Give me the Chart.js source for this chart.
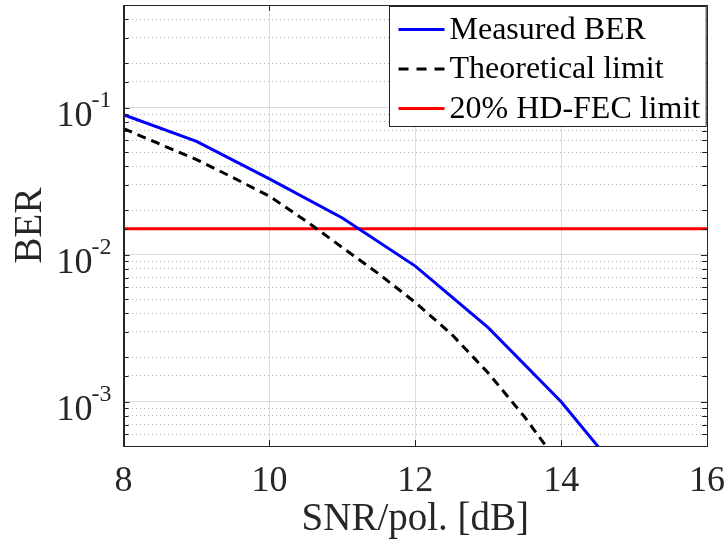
<!DOCTYPE html>
<html>
<head>
<meta charset="utf-8">
<script src="https://cdn.jsdelivr.net/npm/chart.js@4.4.1/dist/chart.umd.min.js"></script>
<style>
  html, body { margin: 0; padding: 0; background: #fff; }
</style>
</head>
<body>
<canvas id="c" width="726" height="546"></canvas>
<script>
// measured BER vs SNR per polarisation
const snrMeasured = [8, 9, 10, 11, 12, 13, 14, 15];
const berMeasured = [0.0896, 0.059, 0.0328, 0.0178, 0.00837, 0.00319, 0.0010, 0.00025];

// theoretical curve
const snrTheory = [8, 8.5, 9, 9.5, 10, 10.5, 11, 11.5, 12, 12.5, 13, 13.5, 14];
const berTheory = [0.072, 0.0565, 0.0444, 0.0335, 0.025, 0.017, 0.0112, 0.0074, 0.00474, 0.00287, 0.00157, 0.000787, 0.00036];

// 20% HD-FEC threshold
const fecSnr = [8, 16];
const fecBer = [0.015, 0.015];

const seriesLabels = ['Measured BER', 'Theoretical limit', '20% HD-FEC limit'];
const yDecades = [1e-3, 1e-2, 1e-1];

const FONT = '"Liberation Serif", "Times New Roman", serif';
const AXIS = '#262626';

const toPoints = (xs, ys) => xs.map((x, i) => ({ x: x, y: ys[i] }));
const isDecade = v => Math.abs(Math.log10(v) - Math.round(Math.log10(v))) < 1e-6;

// box, inward ticks, superscript y labels and legend
let matlabLook = {
  id: 'matlabLook',
  afterDraw(chart) {
    const { ctx, chartArea: a, scales: { x, y } } = chart;
    ctx.save();

    ctx.strokeStyle = AXIS;
    ctx.lineWidth = 1;
    ctx.beginPath();
    x.ticks.forEach(t => {
      const px = Math.round(x.getPixelForValue(t.value)) + 0.5;
      ctx.moveTo(px, a.bottom); ctx.lineTo(px, a.bottom - 6);
      ctx.moveTo(px, a.top); ctx.lineTo(px, a.top + 6);
    });
    y.ticks.forEach(t => {
      const py = Math.round(y.getPixelForValue(t.value)) + 0.5;
      const len = isDecade(t.value) ? 6 : 5;
      ctx.moveTo(a.left, py); ctx.lineTo(a.left + len, py);
      ctx.moveTo(a.right, py); ctx.lineTo(a.right - len, py);
    });
    ctx.stroke();
    ctx.strokeRect(Math.round(a.left) + 0.5, Math.round(a.top) + 0.5,
      Math.round(a.right - a.left), Math.round(a.bottom - a.top));

    // y tick labels as 10^n
    ctx.fillStyle = AXIS;
    ctx.textAlign = 'right';
    ctx.textBaseline = 'alphabetic';
    yDecades.forEach(v => {
      const py = y.getPixelForValue(v);
      const exp = String(Math.round(Math.log10(v)));
      const xr = a.left - 12;
      ctx.font = '24px ' + FONT;
      ctx.fillText(exp, xr, py - 1);
      const w = ctx.measureText(exp).width;
      ctx.font = '36px ' + FONT;
      ctx.fillText('10', xr - w + 1, py + 18.5);
    });

    // legend
    const ds = chart.data.datasets;
    ctx.font = '32px ' + FONT;
    const textW = Math.max(...ds.map(d => ctx.measureText(d.label).width));
    const rowH = 39.5;
    const boxW = 9 + 46 + 5 + textW + 6;
    const boxH = 23 + rowH * (ds.length - 1) + 18;
    const bx = Math.round(a.right - 1 - boxW) + 0.5;
    const by = Math.round(a.top + 1) + 0.5;
    ctx.fillStyle = '#fff';
    ctx.fillRect(bx, by, boxW, boxH);
    ctx.strokeStyle = AXIS;
    ctx.lineWidth = 1;
    ctx.strokeRect(bx, by, boxW, boxH);
    ctx.textAlign = 'left';
    ctx.textBaseline = 'middle';
    ds.forEach((d, i) => {
      const cy = by + 23 + rowH * i;
      ctx.strokeStyle = d.borderColor;
      ctx.lineWidth = 3;
      ctx.setLineDash(d.borderDash && d.borderDash.length ? [10, 8] : []);
      ctx.beginPath();
      ctx.moveTo(bx + 9, cy); ctx.lineTo(bx + 55, cy);
      ctx.stroke();
      ctx.setLineDash([]);
      ctx.fillStyle = '#000';
      ctx.fillText(d.label, bx + 60, cy + 1);
    });
    ctx.restore();
  }
};

Chart.defaults.font.family = FONT;
Chart.defaults.color = AXIS;

new Chart(document.getElementById('c'), {
  type: 'line',
  data: {
    datasets: [{
      label: seriesLabels[0],
      data: toPoints(snrMeasured, berMeasured),
      borderColor: '#0000ff',
      borderWidth: 3,
      pointRadius: 0,
      tension: 0,
    }, {
      label: seriesLabels[1],
      data: toPoints(snrTheory, berTheory),
      borderColor: '#000000',
      borderWidth: 3,
      borderDash: [9, 6],
      pointRadius: 0,
      tension: 0,
    }, {
      label: seriesLabels[2],
      data: toPoints(fecSnr, fecBer),
      borderColor: '#ff0000',
      borderWidth: 3,
      pointRadius: 0,
      tension: 0,
    }],
  },
  options: {
    responsive: false,
    animation: false,
    layout: { padding: { left: 0, right: 0, top: 5, bottom: 0 } },
    plugins: { legend: { display: false }, tooltip: { enabled: false } },
    scales: {
      x: {
        type: 'linear',
        min: 8,
        max: 16,
        ticks: { stepSize: 2, font: { size: 36 }, padding: 14, maxRotation: 0 },
        grid: { color: '#dcdcdc', lineWidth: 1, drawTicks: false },
        border: { color: AXIS, width: 1 },
        title: { display: true, text: 'SNR/pol. [dB]', font: { size: 39 }, padding: { top: 0, bottom: 3 } },
        afterFit: s => { s.height = 100; s.paddingLeft = 0; s.paddingRight = 19; },
      },
      y: {
        type: 'logarithmic',
        min: 0.0005,
        max: 0.5,
        ticks: { display: false, autoSkip: false },
        grid: {
          color: c => (c.tick && isDecade(c.tick.value)) ? '#dcdcdc' : '#b4b4b4',
          lineWidth: 1,
          drawTicks: false,
        },
        border: {
          color: AXIS,
          width: 1,
          dash: c => (c.tick && !isDecade(c.tick.value)) ? [1, 3] : [],
        },
        title: { display: true, text: 'BER', font: { size: 39 }, padding: { top: 7, bottom: 0 } },
        afterFit: s => { s.width = 123.6; },
      },
    },
  },
  plugins: [matlabLook],
});
</script>
</body>
</html>
